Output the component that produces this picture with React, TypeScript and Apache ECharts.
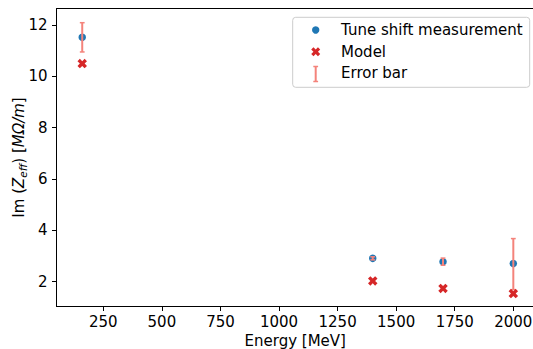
import React, { useEffect, useRef } from "react";
import * as echarts from "echarts";

const energy = [160, 1400, 1700, 2000];
const measured = [11.52, 2.91, 2.78, 2.71];
const model = [10.5, 2.03, 1.74, 1.54];
const errLow = [10.95, 2.85, 2.64, 1.69];
const errHigh = [12.09, 2.97, 2.92, 3.68];
const xTicks = [250, 500, 750, 1000, 1250, 1500, 1750, 2000];
const yTicks = [2, 4, 6, 8, 10, 12];

const FONT = "DejaVu Sans";
const FS = 15;
const BLUE = "#1f77b4";
const RED = "#d62728";
const ERR = "#f4837b";
const XPATH = "path://M-1,-2L0,-1L1,-2L2,-1L1,0L2,1L1,2L0,1L-1,2L-2,1L-1,0L-2,-1Z";

function xPoly(cx: number, cy: number, s: number): number[][] {
  const v = [[-1, -2], [0, -1], [1, -2], [2, -1], [1, 0], [2, 1], [1, 2], [0, 1], [-1, 2], [-2, 1], [-1, 0], [-2, -1]];
  return v.map(([a, b]) => [cx + (a / 4) * s, cy + (b / 4) * s]);
}

export default function App() {
  const ref = useRef<HTMLDivElement>(null);
  useEffect(() => {
    if (!ref.current) return;
    const chart = echarts.init(ref.current, null, { renderer: "svg" });
    const legX = 315.7;
    chart.setOption({
      animation: false,
      backgroundColor: "#ffffff",
      textStyle: { fontFamily: FONT },
      grid: {
        left: 56.5,
        top: 8.5,
        right: -1,
        bottom: 42.5,
        show: true,
        borderColor: "#000",
        borderWidth: 1,
        containLabel: false,
        outerBoundsMode: "none",
      },
      xAxis: {
        type: "value",
        min: 50.2,
        max: 2088.3,
        name: "Energy [MeV]",
        nameLocation: "middle",
        nameGap: 27,
        nameMoveOverlap: false,
        nameTextStyle: { fontFamily: FONT, fontSize: FS, color: "#000" },
        axisLine: { show: true, onZero: false, lineStyle: { color: "#000", width: 1 } },
        axisTick: { show: true, length: 4.5, customValues: xTicks, lineStyle: { color: "#000", width: 1 } },
        axisLabel: { customValues: xTicks, formatter: (v: number) => String(v), fontFamily: FONT, fontSize: FS, color: "#000", margin: 7.5 },
        splitLine: { show: false },
      },
      yAxis: {
        type: "value",
        min: 1.034,
        max: 12.643,
        name: "{n|Im (}{i|Z}{s|eff}{n|) [}{i|MΩ/m}{n|]}",
        nameLocation: "middle",
        nameRotate: 90,
        nameGap: 28,
        nameMoveOverlap: false,
        nameTextStyle: {
          fontFamily: FONT,
          fontSize: FS,
          color: "#000",
          rich: {
            n: { fontFamily: FONT, fontSize: FS, color: "#000", lineHeight: 20, verticalAlign: "middle" },
            i: { fontFamily: FONT, fontSize: FS, fontStyle: "italic", color: "#000", lineHeight: 20, verticalAlign: "middle" },
            s: { fontFamily: FONT, fontSize: 10.5, fontStyle: "italic", color: "#000", lineHeight: 20, verticalAlign: "bottom", padding: [4, 0, 0, 0] },
          },
        },
        axisLine: { show: true, onZero: false, lineStyle: { color: "#000", width: 1 } },
        axisTick: { show: true, length: 4.5, customValues: yTicks, lineStyle: { color: "#000", width: 1 } },
        axisLabel: { customValues: yTicks, formatter: (v: number) => String(v), fontFamily: FONT, fontSize: FS, color: "#000", margin: 9 },
        splitLine: { show: false },
      },
      series: [
        {
          name: "Tune shift measurement",
          type: "scatter",
          symbol: "circle",
          symbolSize: 7.5,
          itemStyle: { color: BLUE, opacity: 1 },
          data: energy.map((e, i) => [e, measured[i]]),
          z: 2,
        },
        {
          name: "Error bar",
          type: "custom",
          z: 3,
          data: energy.map((e, i) => [e, errLow[i], errHigh[i]]),
          renderItem: (params: any, api: any) => {
            const x = api.value(0);
            const lo = api.coord([x, api.value(1)]);
            const hi = api.coord([x, api.value(2)]);
            const cw = 2.4;
            return {
              type: "group",
              children: [
                { type: "line", shape: { x1: lo[0], y1: lo[1], x2: hi[0], y2: hi[1] }, style: { stroke: ERR, lineWidth: 2 } },
                { type: "line", shape: { x1: lo[0] - cw, y1: lo[1], x2: lo[0] + cw, y2: lo[1] }, style: { stroke: ERR, lineWidth: 1.5 } },
                { type: "line", shape: { x1: hi[0] - cw, y1: hi[1], x2: hi[0] + cw, y2: hi[1] }, style: { stroke: ERR, lineWidth: 1.5 } },
              ],
            };
          },
        },
        {
          name: "Model",
          type: "scatter",
          symbol: XPATH,
          symbolSize: 9.5,
          itemStyle: { color: RED, opacity: 1 },
          data: energy.map((e, i) => [e, model[i]]),
          z: 4,
        },
      ],
      graphic: [
        {
          type: "rect",
          shape: { x: 292.7, y: 17.3, width: 237, height: 70, r: 3 },
          style: { fill: "rgba(255,255,255,0.8)", stroke: "#cccccc", lineWidth: 1 },
          z: 10,
        },
        { type: "circle", shape: { cx: legX, cy: 30, r: 3.7 }, style: { fill: BLUE }, z: 11 },
        { type: "polygon", shape: { points: xPoly(legX, 51.7, 9) }, style: { fill: RED }, z: 11 },
        { type: "line", shape: { x1: legX, y1: 66.5, x2: legX, y2: 81.5 }, style: { stroke: ERR, lineWidth: 2 }, z: 11 },
        { type: "line", shape: { x1: legX - 2.4, y1: 66.5, x2: legX + 2.4, y2: 66.5 }, style: { stroke: ERR, lineWidth: 1.5 }, z: 11 },
        { type: "line", shape: { x1: legX - 2.4, y1: 81.5, x2: legX + 2.4, y2: 81.5 }, style: { stroke: ERR, lineWidth: 1.5 }, z: 11 },
        { type: "text", x: 341, y: 30, style: { text: "Tune shift measurement", fontFamily: FONT, fontSize: FS, fill: "#000", verticalAlign: "middle" }, z: 11 },
        { type: "text", x: 341, y: 51.7, style: { text: "Model", fontFamily: FONT, fontSize: FS, fill: "#000", verticalAlign: "middle" }, z: 11 },
        { type: "text", x: 341, y: 72.7, style: { text: "Error bar", fontFamily: FONT, fontSize: FS, fill: "#000", verticalAlign: "middle" }, z: 11 },
      ],
    });
    return () => chart.dispose();
  }, []);
  return <div ref={ref} style={{ position: "fixed", left: 0, top: 0, width: 533, height: 349 }} />;
}
